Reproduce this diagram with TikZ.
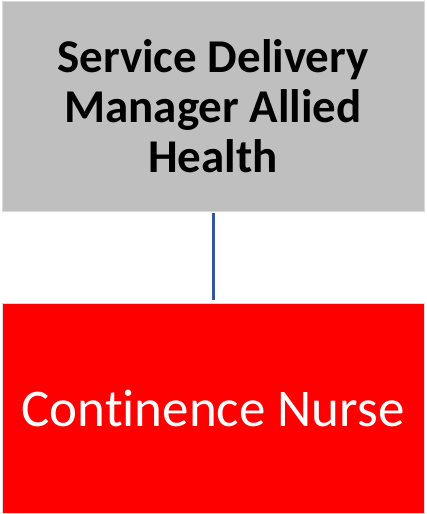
\documentclass[tikz,border=0pt]{standalone}
\usepackage{fontspec}
\setmainfont{Carlito}[Ligatures=NoCommon]
\definecolor{boxgray}{RGB}{191,191,191}
\definecolor{boxred}{RGB}{255,0,0}
\definecolor{linkblue}{RGB}{52,86,158}
\begin{document}
\begin{tikzpicture}[x=1pt,y=-1pt,
  orgbox/.style={draw=white!85!black, line width=0.8pt, minimum width=422pt, inner sep=0pt, align=center},
  link/.style={draw=linkblue, line width=3pt}]
\useasboundingbox (0,0) rectangle (426,514);
\node[orgbox, fill=boxgray, minimum height=210pt, font=\bfseries\fontsize{47}{50}\selectfont] (mgr) at (213,106)
  {Service Delivery\\Manager Allied\\Health};
\node[orgbox, fill=boxred, text=white, minimum height=210pt, font=\fontsize{53}{60}\selectfont] (nurse) at (213,408)
  {Continence Nurse};
\draw[link] ([yshift=-2pt]mgr.south) -- ([yshift=3pt]nurse.north);
\end{tikzpicture}
\end{document}
